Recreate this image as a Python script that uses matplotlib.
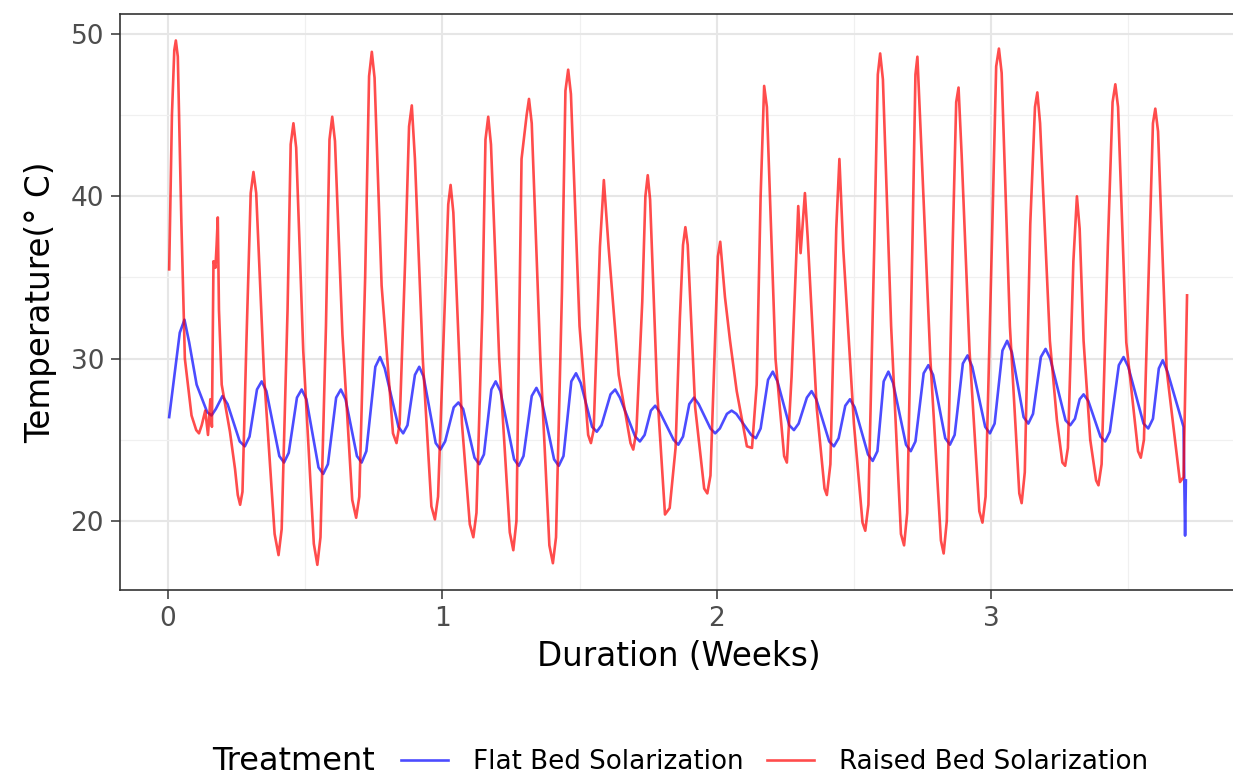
import numpy as np
from matplotlib import pyplot as plt
from matplotlib.lines import Line2D

# readings taken off the chart, time in days since start, temperature in deg C
FLAT_DAYS = [0.03, 0.30, 0.42, 0.54, 0.73, 1.00, 1.11, 1.22, 1.39, 1.52,
             1.83, 1.96, 2.08, 2.27, 2.39, 2.51, 2.84, 2.96, 3.08, 3.29,
             3.41, 3.53, 3.84, 3.96, 4.08, 4.29, 4.41, 4.53, 4.82, 4.94,
             5.06, 5.29, 5.41, 5.53, 5.88, 6.00, 6.11, 6.30, 6.41, 6.52,
             6.83, 6.95, 7.07, 7.29, 7.41, 7.53, 7.82, 7.94, 8.06, 8.25,
             8.36, 8.48, 8.83, 8.95, 9.07, 9.28, 9.40, 9.52, 9.85, 9.97,
             10.09, 10.29, 10.41, 10.53, 10.82, 10.94, 11.06, 11.29, 11.41, 11.53,
             11.92, 12.04, 12.16, 12.32, 12.43, 12.55, 12.90, 13.02, 13.14, 13.30,
             13.42, 13.54, 13.84, 13.96, 14.08, 14.26, 14.38, 14.50, 14.88, 15.00,
             15.12, 15.31, 15.43, 15.55, 15.85, 15.97, 16.09, 16.30, 16.42, 16.54,
             16.87, 16.99, 17.11, 17.28, 17.40, 17.52, 17.86, 17.98, 18.10, 18.26,
             18.38, 18.50, 18.83, 18.95, 19.07, 19.28, 19.40, 19.52, 19.83, 19.95,
             20.07, 20.28, 20.40, 20.52, 20.85, 20.97, 21.09, 21.29, 21.41, 21.53,
             21.83, 21.95, 22.07, 22.27, 22.39, 22.51, 22.90, 23.02, 23.14, 23.26,
             23.36, 23.48, 23.79, 23.91, 24.03, 24.26, 24.38, 24.50, 24.89, 25.01,
             25.13, 25.28, 25.38, 25.50, 25.91, 25.95, 25.97]
FLAT_TEMP = [26.4, 31.6, 32.4, 31.0, 28.4, 26.7, 26.5, 26.9, 27.7, 27.2,
             24.9, 24.6, 25.2, 28.1, 28.6, 28.0, 24.0, 23.6, 24.2, 27.6,
             28.1, 27.5, 23.3, 22.9, 23.5, 27.6, 28.1, 27.5, 24.0, 23.6,
             24.3, 29.5, 30.1, 29.4, 25.8, 25.4, 25.9, 29.0, 29.5, 28.9,
             24.8, 24.4, 24.9, 27.0, 27.3, 26.9, 23.9, 23.5, 24.1, 28.1,
             28.6, 28.0, 23.8, 23.4, 24.0, 27.7, 28.2, 27.6, 23.8, 23.4,
             24.0, 28.6, 29.1, 28.5, 25.8, 25.5, 25.9, 27.8, 28.1, 27.6,
             25.2, 24.9, 25.3, 26.8, 27.1, 26.7, 25.0, 24.7, 25.2, 27.2,
             27.6, 27.2, 25.7, 25.4, 25.7, 26.6, 26.8, 26.6, 25.3, 25.1,
             25.7, 28.7, 29.2, 28.6, 25.9, 25.6, 26.0, 27.6, 28.0, 27.5,
             24.9, 24.6, 25.1, 27.1, 27.5, 27.0, 24.1, 23.7, 24.3, 28.6,
             29.2, 28.5, 24.7, 24.3, 24.9, 29.1, 29.6, 29.0, 25.1, 24.7,
             25.3, 29.7, 30.2, 29.5, 25.8, 25.4, 26.0, 30.5, 31.1, 30.4,
             26.4, 26.0, 26.6, 30.1, 30.6, 30.0, 26.2, 25.9, 26.3, 27.5,
             27.8, 27.4, 25.2, 24.9, 25.5, 29.6, 30.1, 29.5, 26.0, 25.7,
             26.3, 29.4, 29.9, 29.2, 25.8, 19.1, 22.5]

RAISED_DAYS = [0.03, 0.10, 0.16, 0.20, 0.25, 0.34, 0.43, 0.60, 0.72, 0.79,
               0.86, 0.95, 1.02, 1.08, 1.12, 1.16, 1.21, 1.24, 1.27, 1.30,
               1.37, 1.58, 1.71, 1.78, 1.84, 1.90, 2.00, 2.11, 2.18, 2.25,
               2.45, 2.72, 2.82, 2.90, 3.05, 3.13, 3.20, 3.27, 3.45, 3.72,
               3.81, 3.89, 4.03, 4.12, 4.19, 4.26, 4.45, 4.70, 4.80, 4.88,
               5.03, 5.13, 5.20, 5.27, 5.45, 5.74, 5.83, 5.91, 6.05, 6.15,
               6.22, 6.30, 6.50, 6.72, 6.81, 6.89, 7.07, 7.15, 7.21, 7.28,
               7.50, 7.70, 7.79, 7.87, 8.02, 8.10, 8.17, 8.24, 8.45, 8.72,
               8.81, 8.89, 9.02, 9.15, 9.21, 9.28, 9.50, 9.73, 9.82, 9.90,
               10.05, 10.14, 10.21, 10.28, 10.50, 10.72, 10.79, 10.86, 11.02, 11.12,
               11.24, 11.50, 11.80, 11.87, 11.95, 12.10, 12.18, 12.24, 12.30, 12.48,
               12.68, 12.80, 12.95, 13.06, 13.14, 13.20, 13.26, 13.45, 13.68, 13.76,
               13.84, 14.03, 14.09, 14.21, 14.34, 14.51, 14.77, 14.90, 15.02, 15.12,
               15.21, 15.28, 15.50, 15.72, 15.79, 15.91, 16.08, 16.14, 16.25, 16.32,
               16.55, 16.75, 16.81, 16.90, 17.05, 17.13, 17.23, 17.50, 17.72, 17.79,
               17.87, 18.02, 18.11, 18.17, 18.24, 18.45, 18.70, 18.78, 18.86, 19.00,
               19.07, 19.12, 19.23, 19.45, 19.72, 19.79, 19.87, 20.02, 20.11, 20.17,
               20.25, 20.45, 20.70, 20.78, 20.86, 21.02, 21.13, 21.20, 21.27, 21.48,
               21.72, 21.78, 21.86, 22.00, 22.12, 22.18, 22.25, 22.50, 22.68, 22.82,
               22.89, 22.96, 23.10, 23.19, 23.26, 23.36, 23.53, 23.68, 23.74, 23.82,
               23.98, 24.10, 24.17, 24.24, 24.45, 24.75, 24.82, 24.90, 25.04, 25.13,
               25.19, 25.26, 25.48, 25.82, 25.91, 26.00]
RAISED_TEMP = [35.5, 45.0, 49.0, 49.6, 48.6, 38.5, 30.0, 26.5, 25.6, 25.4,
               25.9, 26.8, 25.3, 27.5, 25.8, 36.0, 35.6, 37.0, 38.7, 33.0,
               28.4, 25.5, 23.2, 21.6, 21.0, 21.8, 31.0, 40.2, 41.5, 40.2,
               29.0, 19.2, 17.9, 19.5, 33.0, 43.2, 44.5, 43.0, 30.5, 18.6,
               17.3, 19.0, 32.0, 43.5, 44.9, 43.4, 31.5, 21.3, 20.2, 21.5,
               35.0, 47.4, 48.9, 47.3, 34.5, 25.4, 24.8, 26.0, 36.0, 44.3,
               45.6, 42.3, 30.0, 20.9, 20.1, 21.5, 34.0, 39.5, 40.7, 39.0,
               26.0, 19.8, 19.0, 20.5, 33.0, 43.5, 44.9, 43.2, 30.0, 19.3,
               18.2, 20.0, 42.3, 45.0, 46.0, 44.5, 30.0, 18.5, 17.4, 19.0,
               34.0, 46.5, 47.8, 46.3, 32.0, 25.3, 24.8, 25.6, 36.9, 41.0,
               36.9, 29.0, 24.8, 24.4, 25.5, 33.5, 40.0, 41.3, 39.8, 28.0,
               20.4, 20.8, 24.5, 32.5, 37.0, 38.1, 37.0, 27.0, 22.0, 21.7,
               22.8, 36.3, 37.2, 33.8, 31.1, 28.0, 24.6, 24.5, 28.4, 40.0,
               46.8, 45.5, 30.0, 24.0, 23.6, 28.9, 39.4, 36.5, 40.2, 37.5,
               27.0, 22.0, 21.6, 23.5, 38.0, 42.3, 36.7, 26.0, 19.9, 19.4,
               21.0, 37.0, 47.5, 48.8, 47.2, 32.0, 19.2, 18.5, 20.5, 38.0,
               47.5, 48.6, 42.5, 30.0, 18.8, 18.0, 20.0, 37.0, 45.8, 46.7,
               42.5, 30.5, 20.6, 19.9, 21.5, 37.0, 48.0, 49.1, 47.6, 32.0,
               21.7, 21.1, 23.0, 38.3, 45.5, 46.4, 44.5, 31.1, 26.2, 23.6,
               23.4, 24.5, 36.0, 40.0, 38.0, 31.1, 25.0, 22.5, 22.2, 23.5,
               37.0, 45.8, 46.9, 45.5, 31.0, 24.3, 23.9, 25.0, 37.0, 44.5,
               45.4, 44.0, 29.3, 22.4, 22.7, 33.9]

LABELS = ["Flat Bed Solarization", "Raised Bed Solarization"]
COLORS = ["blue", "red"]

fig = plt.figure(figsize=(12.33, 7.78), dpi=100)
ax = fig.add_axes([120 / 1233, 1 - 590 / 778, 1118 / 1233, 576 / 778])

flat_weeks = np.array(FLAT_DAYS) / 7
raised_weeks = np.array(RAISED_DAYS) / 7
ax.plot(flat_weeks, FLAT_TEMP, color=COLORS[0], alpha=0.7, lw=1.9)
ax.plot(raised_weeks, RAISED_TEMP, color=COLORS[1], alpha=0.7, lw=1.9)

ax.set_xlim(-0.175, 3.90)
ax.set_ylim(15.75, 51.23)
ax.set_xticks([0, 1, 2, 3])
ax.set_xticks([0.5, 1.5, 2.5, 3.5], minor=True)
ax.set_yticks([20, 30, 40, 50])
ax.set_yticks([25, 35, 45], minor=True)

ax.grid(which="major", color="#E6E6E6", lw=1.5)
ax.grid(which="minor", color="#F0F0F0", lw=0.9)
ax.set_axisbelow(True)
for s in ax.spines.values():
    s.set_color("#333333")
    s.set_linewidth(1.2)

ax.tick_params(which="major", length=6.5, width=1.1, color="#333333",
               labelcolor="#4D4D4D", labelsize=19, pad=5)
ax.tick_params(which="minor", length=0)

ax.set_xlabel("Duration (Weeks)", fontsize=23.5, labelpad=6)
ax.set_ylabel("Temperature(° C)", fontsize=23.5, labelpad=10)

# legend: title sits to the left of the keys like ggplot's bottom legend
fig.text(212 / 1233, 1 - 762 / 778, "Treatment", fontsize=23, ha="left", va="center")
handles = [Line2D([], [], color=c, alpha=0.7, lw=1.9) for c in COLORS]
fig.legend(handles, LABELS, loc="center left", bbox_to_anchor=(401 / 1233, 1 - 762 / 778),
           ncol=2, frameon=False, fontsize=18.8, borderpad=0, borderaxespad=0,
           handlelength=1.8, handletextpad=0.95, columnspacing=0.9)

fig.savefig("out.png", dpi=100)
